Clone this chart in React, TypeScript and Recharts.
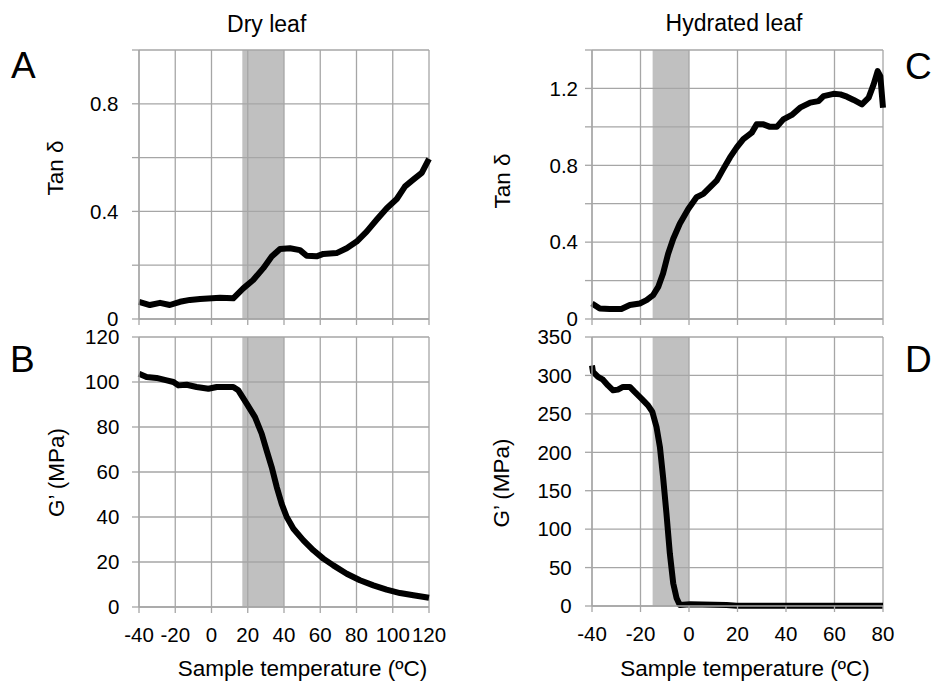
import React from 'react';
import { LineChart, Line, XAxis, YAxis, CartesianGrid, ReferenceArea } from 'recharts';

// ---------- data ----------
const dryTempTicks = [-40, -20, 0, 20, 40, 60, 80, 100, 120];
const hydTempTicks = [-40, -20, 0, 20, 40, 60, 80];

const tanDryTicks = [0, 0.2, 0.4, 0.6, 0.8, 1.0];
const tanDryLabels = [0, 0.4, 0.8];
const gDryTicks = [0, 20, 40, 60, 80, 100, 120];
const tanHydTicks = [0, 0.2, 0.4, 0.6, 0.8, 1.0, 1.2, 1.4];
const tanHydLabels = [0, 0.4, 0.8, 1.2];
const gHydTicks = [0, 50, 100, 150, 200, 250, 300, 350];

const dryShade = [17, 40];
const hydShade = [-15, 0];

const dryTanT = [-40, -34, -28.4, -23, -17.4, -11.9, -6.3, 4.7, 12, 17.5, 23, 28.6, 33.2, 37.8, 43.3, 48.8, 52.5, 58, 61.7, 69, 74.6, 80.1, 85.6, 91.1, 96.7, 102.2, 106.8, 111.3, 116, 120];
const dryTanV = [0.064, 0.052, 0.06, 0.052, 0.064, 0.071, 0.074, 0.079, 0.077, 0.114, 0.145, 0.189, 0.232, 0.26, 0.263, 0.256, 0.235, 0.233, 0.242, 0.245, 0.263, 0.288, 0.325, 0.369, 0.412, 0.446, 0.493, 0.518, 0.543, 0.595];

const dryGT = [-40, -35.8, -30.3, -24.7, -21, -18.3, -13.7, -8.2, -1.7, 2.9, 12, 14.8, 19.4, 24, 27.7, 30.4, 33.2, 36, 38.7, 41.5, 45.2, 50.7, 56.2, 61.7, 67.2, 74.6, 81.9, 89.3, 96.6, 104, 111.4, 120];
const dryGV = [103.7, 102.2, 101.8, 100.7, 100, 98.5, 98.8, 97.8, 97, 97.8, 97.8, 96.3, 90.4, 84.4, 77, 69.6, 62.2, 53.3, 45.9, 40, 34.8, 29.6, 25.2, 21.5, 18.5, 14.8, 11.9, 9.6, 7.7, 6.2, 5.2, 4.1];

const hydTanT = [-40, -36.8, -32.7, -27.9, -24.4, -20.3, -17.5, -14.8, -12.7, -10.7, -8.6, -6.5, -3.8, -0.3, 3.1, 5.9, 8.6, 11.4, 14.1, 16.9, 19.7, 22.4, 25.9, 27.9, 30.7, 33.4, 36.2, 38.9, 42.4, 45.8, 50, 53.4, 55.5, 59.6, 62.4, 65.1, 67.9, 71.3, 74.1, 76.1, 77.8, 78.9, 80];
const hydTanV = [0.081, 0.055, 0.052, 0.052, 0.073, 0.081, 0.098, 0.124, 0.167, 0.237, 0.34, 0.418, 0.496, 0.573, 0.634, 0.651, 0.685, 0.72, 0.78, 0.841, 0.893, 0.936, 0.97, 1.013, 1.013, 1.0, 1.0, 1.039, 1.062, 1.1, 1.126, 1.134, 1.16, 1.172, 1.169, 1.157, 1.14, 1.117, 1.152, 1.22, 1.29, 1.264, 1.1];

const hydGT = [-40, -39.6, -37.5, -35.5, -33.4, -31.3, -29.3, -27.2, -24.4, -22.4, -19.6, -16.9, -15.1, -13.4, -12, -10.7, -9.3, -7.9, -6.5, -5.1, -3.8, 0.4, 15.5, 19.7, 80];
const hydGV = [313, 304.5, 298, 294.5, 287, 280.6, 281.5, 285, 285, 278.5, 269.8, 261, 252.5, 233, 207, 168, 120.4, 68.4, 29.4, 10, 1.3, 2.2, 1.3, 0.4, 0.4];

const zip = (t: number[], v: number[]) => t.map((x, i) => ({ t: x, v: v[i] }));

// ---------- layout ----------
const W = 939;
const H = 690;
const GRID = '#a6a6a6';
const FONT = '"Liberation Sans", Arial, sans-serif';

type Box = { left: number; right: number; top: number; bottom: number };

function Panel(props: {
  data: { t: number; v: number }[];
  xTicks: number[];
  yTicks: number[];
  yLabels?: number[];
  showX: boolean;
  box: Box;
  shade: number[];
  yTickMargin: number;
}) {
  const { data, xTicks, yTicks, yLabels, showX, box, shade, yTickMargin } = props;
  const yW = 80;
  const xH = 60;
  const tickStyle = { fill: '#000', fontSize: 20.5, fontFamily: FONT };
  return (
    <div style={{ position: 'absolute', left: 0, top: 0, width: W, height: H }}>
      <LineChart
        width={W}
        height={H}
        data={data}
        margin={{ top: box.top, left: box.left - yW, right: W - box.right, bottom: H - box.bottom - xH }}
      >
        <ReferenceArea
          x1={shade[0]}
          x2={shade[1]}
          fill="#c0c0c0"
          fillOpacity={1}
          stroke="none"
          zIndex={-200}
        />
        <CartesianGrid stroke={GRID} strokeWidth={1.3} fill="none" />
        <XAxis
          type="number"
          dataKey="t"
          domain={[xTicks[0], xTicks[xTicks.length - 1]]}
          ticks={xTicks}
          interval={0}
          height={xH}
          tickSize={6}
          tickMargin={14}
          stroke={GRID}
          axisLine={{ stroke: GRID, strokeWidth: 1.3 }}
          tickLine={{ stroke: GRID, strokeWidth: 1.3 }}
          tick={tickStyle}
          tickFormatter={(v: number) => (showX ? String(v) : '')}
        />
        <YAxis
          type="number"
          domain={[yTicks[0], yTicks[yTicks.length - 1]]}
          ticks={yTicks}
          interval={0}
          width={yW}
          tickSize={7}
          tickMargin={yTickMargin}
          axisLine={{ stroke: GRID, strokeWidth: 1.3 }}
          tickLine={{ stroke: GRID, strokeWidth: 1.3 }}
          tick={tickStyle}
          tickFormatter={(v: number) => (!yLabels || yLabels.includes(v) ? String(v) : '')}
        />
        <Line
          type="linear"
          dataKey="v"
          stroke="#000"
          strokeWidth={6}
          dot={false}
          strokeLinejoin="round"
          isAnimationActive={false}
        />
      </LineChart>
    </div>
  );
}

export default function App() {
  const t = { fontFamily: FONT, fill: '#000' } as const;
  return (
    <div style={{ position: 'absolute', left: 0, top: 0, width: W, height: H, background: '#fff' }}>
      <Panel
        data={zip(dryTanT, dryTanV)}
        xTicks={dryTempTicks}
        yTicks={tanDryTicks}
        yLabels={tanDryLabels}
        showX={false}
        box={{ left: 139, right: 429, top: 50, bottom: 319 }}
        shade={dryShade}
        yTickMargin={13.5}
      />
      <Panel
        data={zip(dryGT, dryGV)}
        xTicks={dryTempTicks}
        yTicks={gDryTicks}
        showX={true}
        box={{ left: 139, right: 429, top: 337, bottom: 607 }}
        shade={dryShade}
        yTickMargin={12.7}
      />
      <Panel
        data={zip(hydTanT, hydTanV)}
        xTicks={hydTempTicks}
        yTicks={tanHydTicks}
        yLabels={tanHydLabels}
        showX={false}
        box={{ left: 592, right: 883, top: 50, bottom: 319 }}
        shade={hydShade}
        yTickMargin={7}
      />
      <Panel
        data={zip(hydGT, hydGV)}
        xTicks={hydTempTicks}
        yTicks={gHydTicks}
        showX={true}
        box={{ left: 592, right: 883, top: 337, bottom: 606 }}
        shade={hydShade}
        yTickMargin={13.3}
      />
      <svg width={W} height={H} style={{ position: 'absolute', left: 0, top: 0, pointerEvents: 'none' }}>
        <text {...t} x={266.7} y={31.5} fontSize={23} textAnchor="middle">Dry leaf</text>
        <text {...t} x={734} y={30.5} fontSize={23} textAnchor="middle">Hydrated leaf</text>
        <text {...t} x={11} y={78.3} fontSize={37}>A</text>
        <text {...t} x={10} y={371.7} fontSize={37}>B</text>
        <text {...t} x={905} y={78.7} fontSize={37}>C</text>
        <text {...t} x={905} y={371.7} fontSize={37}>D</text>
        <text {...t} fontSize={22.5} textAnchor="middle" dominantBaseline="central" transform="translate(55,168) rotate(-90)">Tan δ</text>
        <text {...t} fontSize={22.5} textAnchor="middle" dominantBaseline="central" transform="translate(502,181) rotate(-90)">Tan δ</text>
        <text {...t} fontSize={22.5} textAnchor="middle" dominantBaseline="central" transform="translate(56,472.5) rotate(-90)">G’ (MPa)</text>
        <text {...t} fontSize={22.5} textAnchor="middle" dominantBaseline="central" transform="translate(501,483) rotate(-90)">G’ (MPa)</text>
        <text {...t} x={302.5} y={676} fontSize={22.5} textAnchor="middle">Sample temperature (ºC)</text>
        <text {...t} x={745} y={676} fontSize={22.5} textAnchor="middle">Sample temperature (ºC)</text>
      </svg>
    </div>
  );
}
